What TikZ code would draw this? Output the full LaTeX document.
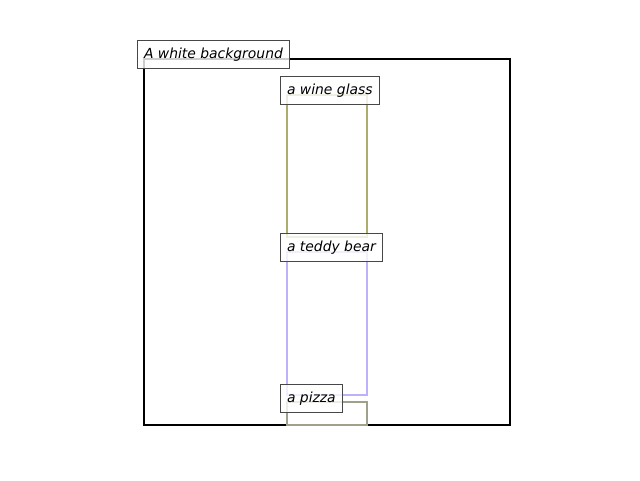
\documentclass[tikz,border=0pt]{standalone}
\usepackage{fontspec}
\setmainfont{DejaVu Sans}
\begin{document}
\begin{tikzpicture}[x=1pt,y=-1pt,
  frame/.style={draw=black,line width=2pt},
  region/.style={line width=2.6pt},
  tag/.style={draw=black!72,line width=1pt,fill=white,fill opacity=0.8,text opacity=1,
    font=\fontsize{13.9}{16}\selectfont\itshape,anchor=north west,
    inner xsep=6.5pt,inner ysep=0pt,minimum height=28pt,text height=10.5pt,text depth=3pt}
]
\useasboundingbox (0,0) rectangle (640,480);
% scene frame
\draw[frame] (144,59) rectangle (510,425);
% object regions
\draw[region,draw={rgb,255:red,172;green,172;blue,108}] (287,95) rectangle (367,237);
\draw[region,draw={rgb,255:red,188;green,178;blue,252}] (287,252) rectangle (367,395);
\draw[region,draw={rgb,255:red,160;green,160;blue,140}] (287,402) rectangle (367,425);
% labels
\node[tag] (bg) at (137,40) {A white background};
\node[tag] (glass) at (280,76) {a wine glass};
\node[tag] (bear) at (280,233) {a teddy bear};
\node[tag] (pizza) at (280,384) {a pizza};
\end{tikzpicture}
\end{document}
